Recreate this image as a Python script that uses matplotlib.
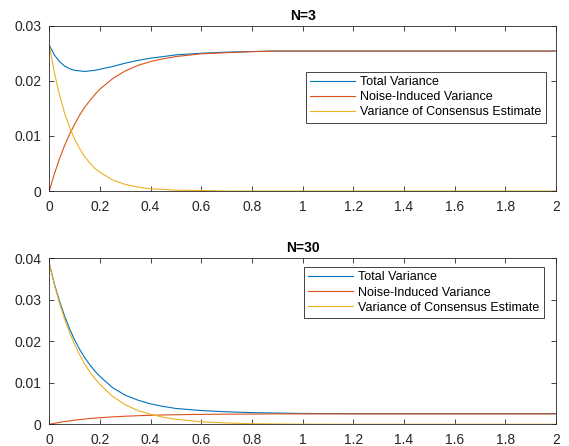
import matplotlib
matplotlib.use("Agg")
import matplotlib.pyplot as plt

# time samples
t = [0, 0.02, 0.04, 0.06, 0.08, 0.10, 0.12, 0.14, 0.16, 0.18, 0.20,
     0.25, 0.30, 0.35, 0.40, 0.45, 0.50, 0.60, 0.70, 0.80, 0.90,
     1.0, 1.2, 1.4, 1.6, 1.8, 2.0]

# N=3
total_3 = [0.0265, 0.0247, 0.0235, 0.0227, 0.0222, 0.0219, 0.0218, 0.0217, 0.0218, 0.0219, 0.0221,
           0.0226, 0.0232, 0.0237, 0.0241, 0.0244, 0.0247, 0.0250, 0.0252, 0.0253, 0.0254,
           0.0254, 0.0254, 0.0254, 0.0254, 0.0254, 0.0254]
noise_3 = [0.0, 0.0031, 0.0058, 0.0082, 0.0103, 0.0121, 0.0138, 0.0152, 0.0164, 0.0175, 0.0185,
           0.0204, 0.0218, 0.0228, 0.0235, 0.0240, 0.0244, 0.0249, 0.0251, 0.0253, 0.0254,
           0.0254, 0.0254, 0.0254, 0.0254, 0.0254, 0.0254]
consensus_3 = [0.0265, 0.0215, 0.0175, 0.0142, 0.0116, 0.0094, 0.0077, 0.0062, 0.0051, 0.0041, 0.0034,
               0.0020, 0.0012, 0.0007, 0.0004, 0.0003, 0.00015, 0.0001, 0.0, 0.0, 0.0,
               0.0, 0.0, 0.0, 0.0, 0.0, 0.0]

# N=30
total_30 = [0.0387, 0.0338, 0.0297, 0.0261, 0.0230, 0.0203, 0.0180, 0.0160, 0.0143, 0.0128, 0.0115,
            0.0088, 0.0070, 0.0058, 0.0049, 0.0043, 0.0038, 0.0033, 0.0030, 0.0028, 0.0027,
            0.0026, 0.00255, 0.00255, 0.00255, 0.00255, 0.00255]
noise_30 = [0.0, 0.00024, 0.00045, 0.00065, 0.00082, 0.00098, 0.00113, 0.00126, 0.00138, 0.00148, 0.00158,
            0.00178, 0.00194, 0.00206, 0.00216, 0.00224, 0.0023, 0.00238, 0.00243, 0.00246, 0.0025,
            0.0025, 0.0025, 0.0025, 0.0025, 0.0025, 0.0025]
consensus_30 = [0.0387, 0.0336, 0.0292, 0.0254, 0.0221, 0.0192, 0.0167, 0.0145, 0.0126, 0.0110, 0.0096,
                0.0067, 0.0047, 0.0033, 0.0024, 0.0017, 0.0012, 0.0006, 0.0003, 0.00014, 0.00007,
                0.00003, 0.0, 0.0, 0.0, 0.0, 0.0]

labels = ["Total Variance", "Noise-Induced Variance", "Variance of Consensus Estimate"]
colors = ["#0072BD", "#D95319", "#EDB120"]
x_ticks = [0, 0.2, 0.4, 0.6, 0.8, 1, 1.2, 1.4, 1.6, 1.8, 2]
x_tick_labels = ["0", "0.2", "0.4", "0.6", "0.8", "1", "1.2", "1.4", "1.6", "1.8", "2"]

AX_COLOR = "#262626"
plt.rcParams["font.family"] = ["Liberation Sans", "DejaVu Sans"]
plt.rcParams["font.size"] = 9

fig = plt.figure(figsize=(5.69, 4.46), dpi=100)
ax_top = fig.add_axes([0.0866, 0.5717, 0.8905, 0.3707])
ax_bot = fig.add_axes([0.0866, 0.0487, 0.8905, 0.3728])


def style_axes(ax, title, y_ticks, y_tick_labels, y_max):
    ax.set_xlim(0, 2)
    ax.set_ylim(0, y_max)
    ax.set_xticks(x_ticks)
    ax.set_xticklabels(x_tick_labels)
    ax.set_yticks(y_ticks)
    ax.set_yticklabels(y_tick_labels)
    ax.tick_params(direction="in", top=True, right=True, length=3.5, width=0.6,
                   colors=AX_COLOR, labelsize=10)
    ax.tick_params(axis="x", pad=6.5)
    ax.tick_params(axis="y", pad=5.5)
    for spine in ax.spines.values():
        spine.set_color(AX_COLOR)
        spine.set_linewidth(0.6)
    ax.set_title(title, fontsize=10, fontweight="bold", color="black", pad=4)


def add_legend(ax, anchor):
    leg = ax.legend(loc="upper right", bbox_to_anchor=anchor, borderaxespad=0,
                    fancybox=False, framealpha=1, edgecolor=AX_COLOR, fontsize=9,
                    handlelength=3.6, handletextpad=0.4, labelspacing=0.25,
                    borderpad=0.35)
    leg.get_frame().set_linewidth(0.6)


for values, label, color in zip([total_3, noise_3, consensus_3], labels, colors):
    ax_top.plot(t, values, color=color, linewidth=0.8, label=label)
style_axes(ax_top, "N=3", [0, 0.01, 0.02, 0.03], ["0", "0.01", "0.02", "0.03"], 0.03)
add_legend(ax_top, (0.9797, 0.7217))

for values, label, color in zip([total_30, noise_30, consensus_30], labels, colors):
    ax_bot.plot(t, values, color=color, linewidth=0.8, label=label)
style_axes(ax_bot, "N=30", [0, 0.01, 0.02, 0.03, 0.04],
           ["0", "0.01", "0.02", "0.03", "0.04"], 0.04)
add_legend(ax_bot, (0.976, 0.9458))

fig.savefig("out.png", dpi=100)
